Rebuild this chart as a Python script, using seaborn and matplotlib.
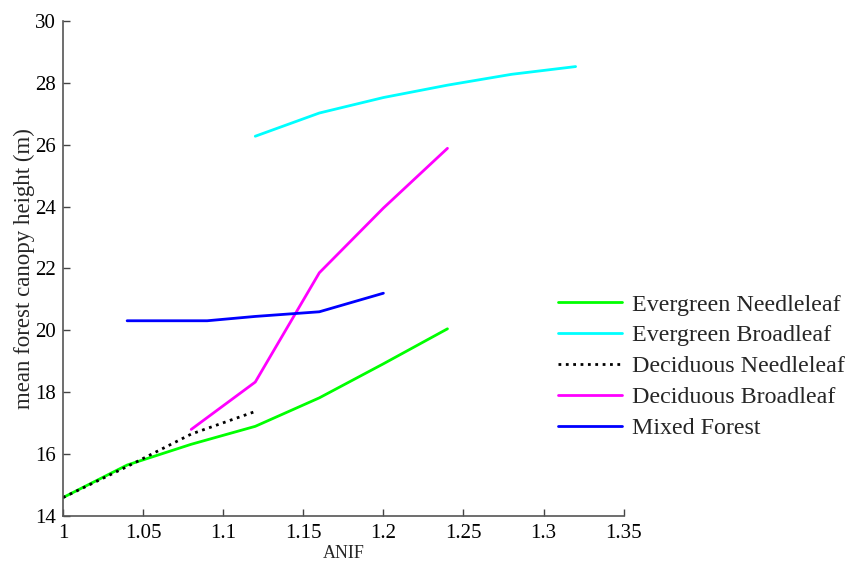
import pandas as pd
import matplotlib
matplotlib.use("Agg")
import matplotlib.pyplot as plt
import seaborn as sns

# data
en_x = [1.00, 1.04, 1.08, 1.12, 1.16, 1.20, 1.24]
en_y = [14.60, 15.65, 16.32, 16.90, 17.82, 18.92, 20.05]

eb_x = [1.12, 1.16, 1.20, 1.24, 1.28, 1.32]
eb_y = [26.27, 27.02, 27.52, 27.92, 28.27, 28.52]

dn_x = [1.00, 1.04, 1.08, 1.12]
dn_y = [14.60, 15.60, 16.65, 17.38]

db_x = [1.08, 1.12, 1.16, 1.20, 1.24]
db_y = [16.80, 18.33, 21.86, 23.95, 25.88]

mf_x = [1.04, 1.09, 1.12, 1.16, 1.20]
mf_y = [20.31, 20.31, 20.45, 20.60, 21.20]

names = ["Evergreen Needleleaf", "Evergreen Broadleaf", "Deciduous Needleleaf",
         "Deciduous Broadleaf", "Mixed Forest"]
colors = ["#00ff00", "#00ffff", "#000000", "#ff00ff", "#0000ff"]
styles = ["-", "-", ":", "-", "-"]

series = [(en_x, en_y), (eb_x, eb_y), (dn_x, dn_y), (db_x, db_y), (mf_x, mf_y)]
frames = []
for name, (xs, ys) in zip(names, series):
    frames.append(pd.DataFrame({"ANIF": xs, "height": ys, "type": name}))
df = pd.concat(frames, ignore_index=True)

sns.set_style("ticks")
plt.rcParams["font.family"] = ["Liberation Serif", "DejaVu Serif"]

fig = plt.figure(figsize=(8.52, 5.61), dpi=100)
ax = fig.add_axes([0.074, 0.080, 0.658, 0.883])

for name, c, ls in zip(names, colors, styles):
    sub = df[df["type"] == name]
    sns.lineplot(data=sub, x="ANIF", y="height", ax=ax, color=c, linestyle=ls,
                 linewidth=2, label=name, sort=False)

ax.set_xlim(1, 1.35)
ax.set_ylim(14, 30)
ax.set_xticks([1, 1.05, 1.1, 1.15, 1.2, 1.25, 1.3, 1.35])
ax.set_xticklabels(["1", "1.05", "1.1", "1.15", "1.2", "1.25", "1.3", "1.35"])
ax.set_yticks(range(14, 31, 2))
ax.tick_params(direction="in", length=5, width=1, labelsize=15, colors="#444444",
               labelcolor="black")
ax.tick_params(axis="x", pad=6)
ax.tick_params(axis="y", pad=5)
for side in ["top", "right"]:
    ax.spines[side].set_visible(False)
for side in ["left", "bottom"]:
    ax.spines[side].set_color("#555555")
    ax.spines[side].set_linewidth(1.2)

ax.set_xlabel("ANIF", fontsize=13, labelpad=1)
ax.set_ylabel("mean forest canopy height (m)", fontsize=16.5, labelpad=0)

handles, labels = ax.get_legend_handles_labels()
ax.get_legend().remove()
fig.legend(handles, labels, loc="upper left", bbox_to_anchor=(0.629, 0.515),
           frameon=False, fontsize=17.3, handlelength=2.7, handletextpad=0.4,
           labelspacing=0.38)

fig.savefig("out.png", dpi=100)
